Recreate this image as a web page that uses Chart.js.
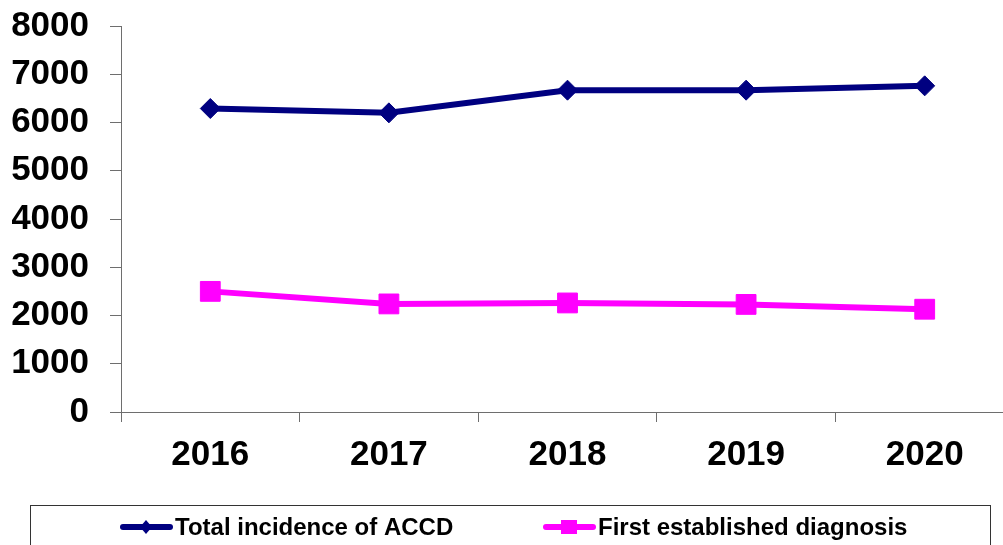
<!DOCTYPE html>
<html>
<head>
<meta charset="utf-8">
<script src="https://cdn.jsdelivr.net/npm/chart.js@4"></script>
<style>
  html, body { margin: 0; padding: 0; background: #fff; overflow: hidden; }
  #wrap { width: 1003px; height: 545px; overflow: hidden; position: relative; }
  canvas { display: block; }
</style>
</head>
<body>
<div id="wrap"><canvas id="chart" width="1029" height="545"></canvas></div>
<script>
'use strict';

const years = ['2016', '2017', '2018', '2019', '2020'];
const totalIncidence = [6290, 6200, 6670, 6670, 6760];
const firstDiagnosis = [2500, 2240, 2260, 2230, 2130];
const yMin = 0;
const yMax = 8000;
const yStep = 1000;

const FONT = '"Liberation Sans", Arial, sans-serif';
const AXIS = '#6e6e6e';

// boxed legend along the bottom: a short line with its marker, then the label
const boxLegend = {
  id: 'boxLegend',
  afterDraw(chart) {
    const ctx = chart.ctx;
    ctx.save();
    ctx.strokeStyle = '#333';
    ctx.lineWidth = 1;
    ctx.strokeRect(30.5, 505.5, 960, 60);

    const spots = [120, 543];
    ctx.font = 'bold 24px ' + FONT;
    ctx.textBaseline = 'middle';
    chart.data.datasets.forEach((ds, i) => {
      const x0 = spots[i], y = 527;
      ctx.strokeStyle = ds.borderColor;
      ctx.lineWidth = 6;
      ctx.lineCap = 'round';
      ctx.beginPath();
      ctx.moveTo(x0 + 3, y);
      ctx.lineTo(x0 + 50, y);
      ctx.stroke();
      ctx.fillStyle = ds.borderColor;
      const cx = x0 + 26;
      if (ds.pointStyle === 'rectRot') {
        ctx.beginPath();
        ctx.moveTo(cx, y - 7);
        ctx.lineTo(cx + 6, y);
        ctx.lineTo(cx, y + 7);
        ctx.lineTo(cx - 6, y);
        ctx.closePath();
        ctx.fill();
      } else {
        ctx.fillRect(cx - 8, y - 7, 16, 14);
      }
      ctx.fillStyle = '#000';
      ctx.fillText(ds.label, x0 + 55, y + 1);
    });
    ctx.restore();
  }
};

new Chart(document.getElementById('chart').getContext('2d'), {
  type: 'line',
  data: {
    labels: years,
    datasets: [
      {
        label: 'Total incidence of ACCD',
        data: totalIncidence,
        borderColor: '#000080',
        backgroundColor: '#000080',
        borderWidth: 6,
        pointStyle: 'rectRot',
        pointRadius: 10,
        pointBorderWidth: 1,
        tension: 0
      },
      {
        label: 'First established diagnosis',
        data: firstDiagnosis,
        borderColor: '#ff00ff',
        backgroundColor: '#ff00ff',
        borderWidth: 6,
        pointStyle: 'rect',
        pointRadius: 14,
        pointBorderWidth: 1,
        tension: 0
      }
    ]
  },
  options: {
    responsive: false,
    animation: false,
    layout: { padding: { left: 12, top: 26, right: 0, bottom: 73 } },
    plugins: {
      legend: { display: false },
      tooltip: { enabled: false }
    },
    scales: {
      x: {
        offset: true,
        grid: {
          offset: true,
          drawOnChartArea: false,
          drawTicks: true,
          tickLength: 10,
          color: AXIS
        },
        border: { color: AXIS, width: 1 },
        ticks: {
          color: '#000',
          padding: 12,
          font: { family: FONT, size: 35, weight: 'bold' }
        },
        afterFit(scale) { scale.height = 60; }
      },
      y: {
        min: yMin,
        max: yMax,
        grid: {
          drawOnChartArea: false,
          tickLength: 11,
          color: AXIS
        },
        border: { color: AXIS, width: 1 },
        ticks: {
          stepSize: yStep,
          color: '#000',
          padding: 21,
          font: { family: FONT, size: 35, weight: 'bold' },
          callback: (v) => String(v)
        },
        afterFit(scale) {
          scale.width = 109;
          scale.paddingTop = 0;
          scale.paddingBottom = 0;
        }
      }
    }
  },
  plugins: [boxLegend]
});
</script>
</body>
</html>
